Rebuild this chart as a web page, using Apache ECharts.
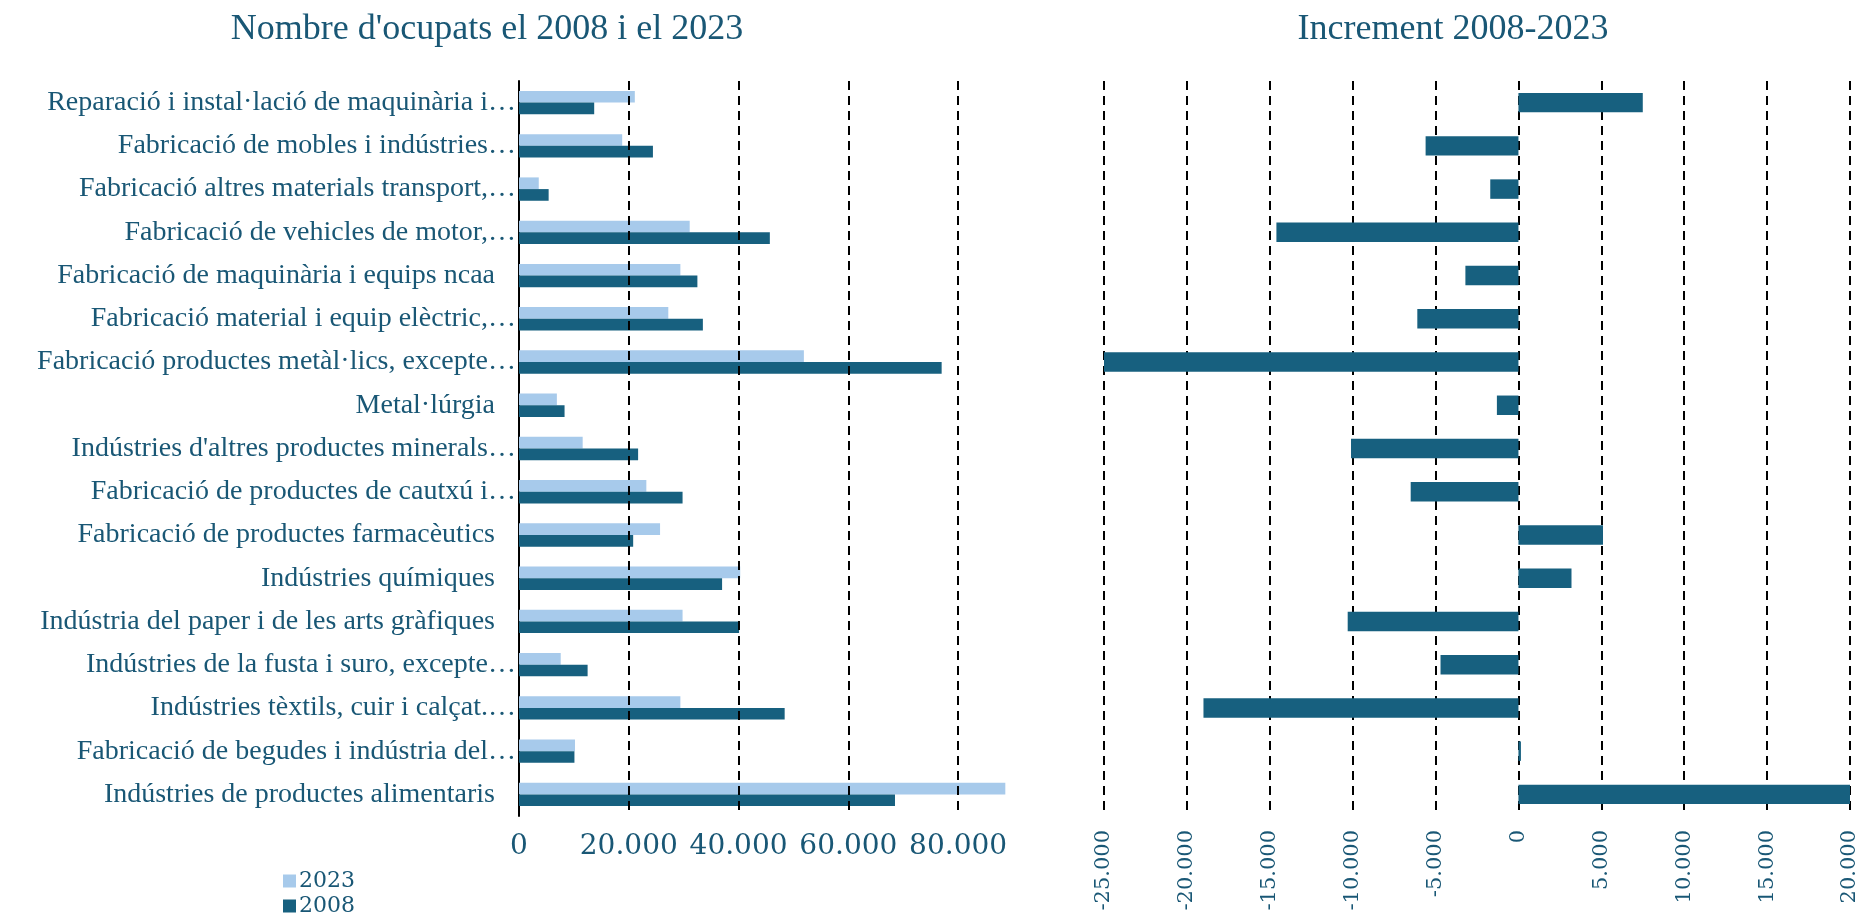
<!DOCTYPE html>
<html>
<head>
<meta charset="utf-8">
<script src="https://cdn.jsdelivr.net/npm/echarts@6/dist/echarts.min.js"></script>
<style>html,body{margin:0;padding:0;background:#fff}#c{width:1861px;height:915px}</style>
</head>
<body>
<div id="c"></div>
<script>
const categories = [
  "Reparació i instal·lació de maquinària i…",
  "Fabricació de mobles i indústries…",
  "Fabricació altres materials transport,…",
  "Fabricació de vehicles de motor,…",
  "Fabricació de maquinària i equips ncaa",
  "Fabricació material i equip elèctric,…",
  "Fabricació productes metàl·lics, excepte…",
  "Metal·lúrgia",
  "Indústries d'altres productes minerals…",
  "Fabricació de productes de cautxú i…",
  "Fabricació de productes farmacèutics",
  "Indústries químiques",
  "Indústria del paper i de les arts gràfiques",
  "Indústries de la fusta i suro, excepte…",
  "Indústries tèxtils, cuir i calçat.…",
  "Fabricació de begudes i indústria del…",
  "Indústries de productes alimentaris"
];
const values2023 = [21100, 18800, 3600, 31100, 29400, 27200, 51900, 6900, 11600, 23200, 25700, 40300, 29800, 7600, 29400, 10200, 88600];
const values2008 = [13700, 24400, 5400, 45700, 32500, 33500, 77000, 8300, 21700, 29800, 20800, 37000, 40100, 12500, 48400, 10100, 68500];
const increment = [7500, -5600, -1700, -14600, -3200, -6100, -25000, -1300, -10100, -6500, 5100, 3200, -10300, -4700, -19000, 150, 20000];
const leftTicks = [20000, 40000, 60000, 80000];
const titleLeft = "Nombre d'ocupats el 2008 i el 2023";
const titleRight = "Increment 2008-2023";
const seriesNames = ["2023", "2008"];

const TEAL = '#195775';
const DARK = '#17607f';
const LIGHT = '#a7caeb';
const SERIF = '"Liberation Serif", "DejaVu Serif", serif';
const NUMF = '"DejaVu Serif", serif';
const GRIDLINE = {color: '#000', width: 2, type: [9, 6]};
const fmt = v => v === 0 ? '0' : (v < 0 ? '-' : '') + Math.abs(v).toString().replace(/\B(?=(\d{3})+(?!\d))/g, '.');

const chart = echarts.init(document.getElementById('c'), null, {renderer: 'canvas'});
chart.setOption({
  animation: false,
  backgroundColor: '#fff',
  title: [
    {text: titleLeft, left: 487, top: 12, textAlign: 'center', padding: 0,
     textStyle: {fontFamily: SERIF, fontWeight: 'normal', fontSize: 36, color: TEAL}},
    {text: titleRight, left: 1453, top: 12, textAlign: 'center', padding: 0,
     textStyle: {fontFamily: SERIF, fontWeight: 'normal', fontSize: 36, color: TEAL}}
  ],
  legend: {
    data: seriesNames, orient: 'vertical', left: 283, bottom: -2, itemGap: 3,
    itemWidth: 13, itemHeight: 13, icon: 'rect', padding: 0,
    textStyle: {fontFamily: NUMF, fontSize: 22, lineHeight: 22, color: TEAL, padding: [0, 0, 0, -2]}
  },
  grid: [
    {left: 519, right: 848, top: 81, bottom: 99},
    {left: 1104, right: 11, top: 81, bottom: 99}
  ],
  xAxis: [
    {type: 'value', gridIndex: 0, min: 0, max: 90000, interval: 20000,
     axisLine: {show: false}, axisTick: {show: false}, splitLine: {show: false},
     axisLabel: {showMaxLabel: false, margin: 17, fontFamily: NUMF, fontSize: 28, color: TEAL,
       formatter: v => v >= 90000 ? '' : fmt(v)}},
    {type: 'value', gridIndex: 1, min: -25000, max: 20000, interval: 5000,
     axisLine: {show: false}, axisTick: {show: false},
     splitLine: {show: true, lineStyle: GRIDLINE},
     axisLabel: {rotate: 90, margin: 14, fontFamily: NUMF, fontSize: 21, color: TEAL, formatter: fmt}}
  ],
  yAxis: [
    {type: 'category', gridIndex: 0, data: categories, inverse: true,
     axisLine: {show: true, onZero: false, lineStyle: {color: '#000', width: 2}},
     axisTick: {show: false},
     axisLabel: {margin: 3, fontFamily: SERIF, fontSize: 28, color: TEAL, interval: 0,
       formatter: v => v.endsWith('…') ? v : '{p|' + v + '}',
       rich: {p: {padding: [0, 21, 0, 0], fontFamily: SERIF, fontSize: 28, color: TEAL}}}},
    {type: 'category', gridIndex: 1, data: categories, inverse: true,
     axisLine: {show: false}, axisTick: {show: false}, axisLabel: {show: false}}
  ],
  series: [
    {type: 'line', xAxisIndex: 0, yAxisIndex: 0, data: [], z: 0, silent: true,
     markLine: {silent: true, symbol: ['none', 'none'], label: {show: false},
       lineStyle: GRIDLINE, data: leftTicks.map(t => ({xAxis: t}))}},
    {name: seriesNames[0], type: 'bar', xAxisIndex: 0, yAxisIndex: 0, data: values2023,
     itemStyle: {color: LIGHT}, barGap: '0%', barCategoryGap: '46%', z: 2},
    {name: seriesNames[1], type: 'bar', xAxisIndex: 0, yAxisIndex: 0, data: values2008,
     itemStyle: {color: DARK}, barGap: '0%', barCategoryGap: '46%', z: 2},
    {name: 'Increment', type: 'bar', xAxisIndex: 1, yAxisIndex: 1, data: increment,
     itemStyle: {color: DARK}, barCategoryGap: '55%', z: 2}
  ]
});
</script>
</body>
</html>
